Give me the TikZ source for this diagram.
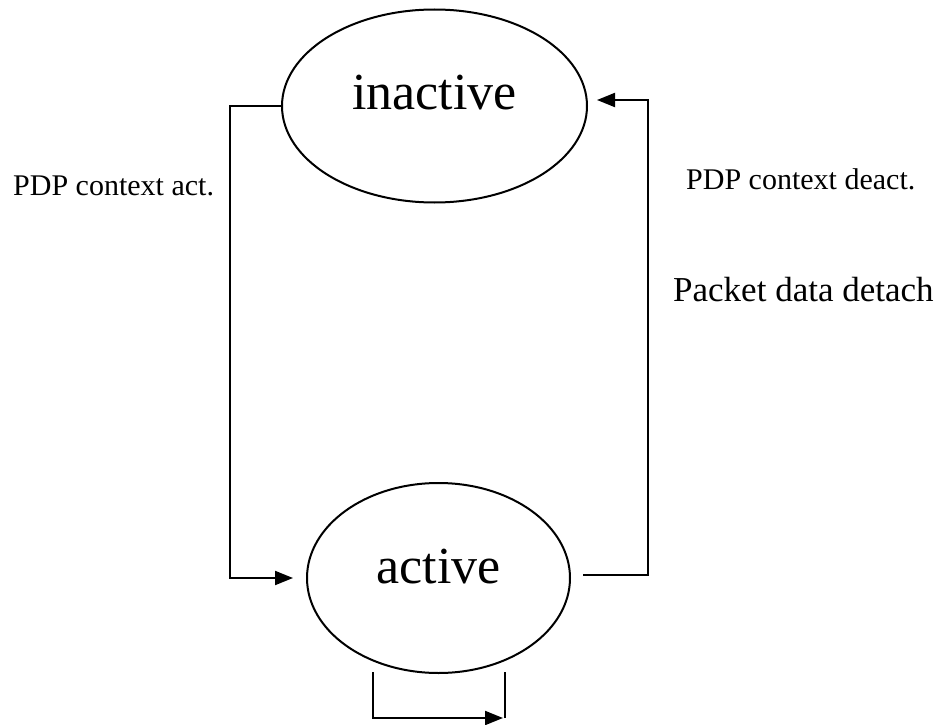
\documentclass[tikz,border=0pt]{standalone}
\usepackage{fontspec}
\setmainfont{Liberation Serif}
\usetikzlibrary{arrows.meta,shapes.geometric}

\tikzset{
  state/.style={ellipse, draw, line width=2pt, inner sep=0pt,
                font=\fontsize{52}{60}\selectfont, text height=20pt},
  flow/.style={line width=2pt, -{Triangle[length=18pt,width=14pt]}},
  plain/.style={line width=2pt},
  smalllabel/.style={font=\fontsize{30}{36}\selectfont, inner sep=0pt, anchor=base west},
  biglabel/.style={font=\fontsize{35}{42}\selectfont, inner sep=0pt, anchor=base west}
}

\begin{document}
\begin{tikzpicture}[x=1pt, y=-1pt]
  \useasboundingbox (0,0) rectangle (938,725);

  % the two states
  \node[state, minimum width=305pt, minimum height=193pt, text depth=12pt]
    (inactive) at (434.5,106) {inactive};
  \node[state, minimum width=263pt, minimum height=190pt, text depth=10pt]
    (active) at (438.5,578) {active};

  % activation: inactive -> active along the left side
  \draw[flow, shorten >=13pt] (inactive.west) -- ++(-51,0) |- (active.west);

  % deactivation / detach: active -> inactive along the right side
  \draw[flow, shorten <=12pt, shorten >=9pt]
    ([yshift=3pt]active.east) -- ++(77,0) |- ([yshift=6pt]inactive.east);

  % self loop under the active state
  \coordinate (loopA) at (373,672);
  \coordinate (loopC) at (503,718);
  \coordinate (loopB) at (505,672);
  \draw[flow] (loopA) |- (loopC);
  \draw[plain] (loopC -| loopB) -- (loopB);

  % transition labels
  \node[smalllabel] (lblact) at (13,195) {PDP context act.};
  \node[smalllabel] (lbldeact) at (686,189) {PDP context deact.};
  \node[biglabel] (lbldetach) at (673,301) {Packet data detach};
\end{tikzpicture}
\end{document}
